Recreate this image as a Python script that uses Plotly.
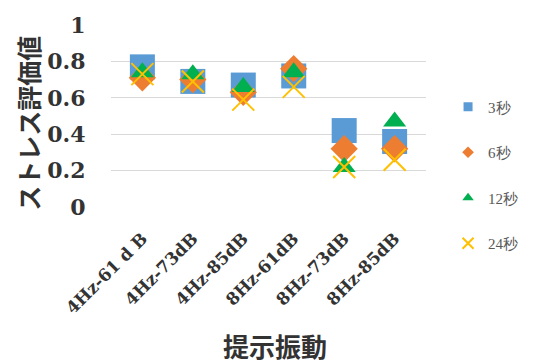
import plotly.graph_objects as go

categories = ["4Hz-61 d B", "4Hz-73dB", "4Hz-85dB", "8Hz-61dB", "8Hz-73dB", "8Hz-85dB"]
s3 = [0.77, 0.69, 0.67, 0.72, 0.42, 0.36]
s6 = [0.71, 0.70, 0.63, 0.76, 0.32, 0.32]
s12 = [0.74, 0.73, 0.66, 0.74, 0.22, 0.47]
s24 = [0.73, 0.69, 0.59, 0.66, 0.22, 0.26]
names = ["3秒", "6秒", "12秒", "24秒"]
y_ticks = [0, 0.2, 0.4, 0.6, 0.8, 1]
y_tick_text = ["0", "0.2", "0.4", "0.6", "0.8", "1"]

fig = go.Figure()
styles = [
    dict(symbol="square", size=25, color="#5B9BD5"),
    dict(symbol="diamond", size=21, color="#ED7D31"),
    dict(symbol="triangle-up", size=20, color="#00B050"),
    dict(symbol="x-thin-open", size=22, color="#FFC000", line=dict(color="#FFC000", width=2)),
]
legend_sizes = [9, 9, 10, 11]
for name, vals, st, ls in zip(names, [s3, s6, s12, s24], styles, legend_sizes):
    fig.add_trace(go.Scatter(x=categories, y=vals, mode="markers", name=name,
                             legendgroup=name, showlegend=False, marker=st))
    lst = dict(st)
    lst["size"] = ls
    fig.add_trace(go.Scatter(x=[None], y=[None], mode="markers", name=name,
                             legendgroup=name, showlegend=True, marker=lst))

fig.update_layout(
    width=535, height=364,
    margin=dict(l=111, r=95, t=18, b=157),
    plot_bgcolor="white", paper_bgcolor="white",
    showlegend=True,
    legend=dict(x=1.07, y=0.64, xanchor="left", yanchor="top",
                font=dict(family="Liberation Serif", size=15, color="#595959"),
                tracegroupgap=23, itemwidth=30, bgcolor="rgba(0,0,0,0)"),
    xaxis=dict(type="category", tickangle=-45, showgrid=False, showline=False,
               ticks="outside", ticklen=14, tickcolor="rgba(0,0,0,0)",
               tickfont=dict(family="DejaVu Serif", size=17, color="#333", weight="bold")),
    yaxis=dict(range=[0, 1], tickvals=y_ticks, ticktext=y_tick_text, showgrid=True,
               gridcolor="#d9d9d9", gridwidth=1, zeroline=False, showline=False,
               ticks="outside", ticklen=20, tickcolor="rgba(0,0,0,0)",
               tickfont=dict(family="DejaVu Serif", size=22, color="#333", weight="bold")),
    annotations=[
        dict(text="ストレス評価値", xref="paper", yref="paper", x=-0.262, y=0.46,
             textangle=-90, showarrow=False, xanchor="center", yanchor="middle",
             font=dict(family="Noto Sans CJK JP", size=25, color="#333", weight="bold")),
        dict(text="提示振動", xref="paper", yref="paper", x=0.52, y=-0.762,
             showarrow=False, xanchor="center", yanchor="middle",
             font=dict(family="Noto Sans CJK JP", size=26, color="#333", weight="bold")),
    ],
)
fig.write_html("out.html")
